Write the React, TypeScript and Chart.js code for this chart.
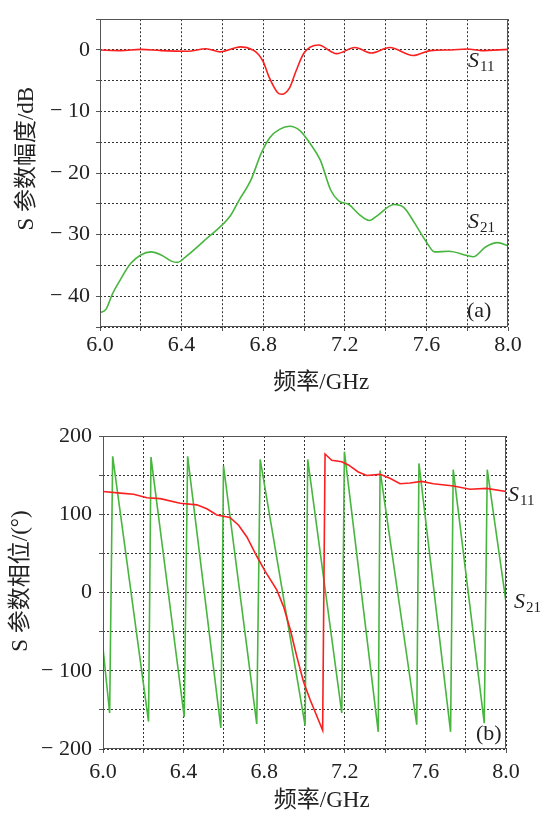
import React, { useEffect, useRef } from 'react';
import { Chart, registerables } from 'chart.js';

Chart.register(...registerables);

// ---------- data: (a) magnitude ----------
const s11MagFreq = [6.0, 6.1, 6.2, 6.3, 6.43, 6.52, 6.59, 6.69, 6.75, 6.776, 6.8, 6.83, 6.87, 6.89, 6.93, 6.96, 7.0, 7.07, 7.16, 7.25, 7.33, 7.42, 7.535, 7.62, 7.72, 7.8, 7.87, 8.0];
const s11MagDb = [0, -0.1, 0.1, -0.1, -0.2, 0.2, -0.3, 0.5, 0, -0.7, -1.9, -4.5, -6.9, -7.2, -6.1, -3.5, -0.5, 0.8, -0.6, 0.4, -0.5, 0.4, -0.9, -0.1, 0, 0.15, -0.1, 0.1];

const s21MagFreq = [6.0, 6.03, 6.06, 6.1, 6.15, 6.2, 6.25, 6.3, 6.35, 6.38, 6.42, 6.52, 6.64, 6.68, 6.74, 6.79, 6.833, 6.88, 6.93, 6.98, 7.03, 7.08, 7.13, 7.17, 7.22, 7.27, 7.32, 7.36, 7.44, 7.49, 7.54, 7.6, 7.64, 7.71, 7.8, 7.83, 7.89, 7.95, 8.0];
const s21MagDb = [-42.7, -42.1, -39.7, -37.3, -34.7, -33.3, -32.8, -33.3, -34.3, -34.5, -33.6, -30.7, -26.9, -24.5, -21.1, -16.8, -14.2, -12.9, -12.4, -13.1, -15.2, -17.9, -22.7, -24.5, -25.1, -26.7, -27.7, -26.9, -25.1, -25.6, -28.0, -31.2, -32.8, -32.7, -33.4, -33.6, -32.0, -31.3, -31.8];

// ---------- data: (b) phase ----------
const s11PhaseFreq = [6.0, 6.086, 6.152, 6.218, 6.284, 6.383, 6.466, 6.515, 6.565, 6.63, 6.673, 6.714, 6.764, 6.805, 6.863, 6.896, 6.93, 6.962, 6.995, 7.028, 7.09, 7.102, 7.135, 7.185, 7.218, 7.267, 7.309, 7.375, 7.424, 7.474, 7.524, 7.581, 7.64, 7.74, 7.821, 7.904, 8.0];
const s11PhaseDeg = [129, 127, 125.5, 121, 120, 114, 112, 107, 99, 96, 86, 71, 46, 27, 3, -18, -48, -82, -114, -137, -176, 177, 169, 167, 163, 154, 149.6, 151, 146, 139, 140, 142, 139, 136, 132, 133, 129];

const s21PhaseFreq = [6.0, 6.033, 6.048, 6.226, 6.238, 6.403, 6.42, 6.585, 6.598, 6.763, 6.78, 7.003, 7.016, 7.185, 7.198, 7.366, 7.375, 7.557, 7.568, 7.725, 7.738, 7.892, 7.907, 8.0];
const s21PhaseDeg = [-71, -154, 174, -165, 173, -159, 174, -173, 162, -168, 170, -170, 170, -154, 180, -178, 156, -169, 165, -178, 157, -167, 157, -12];

// ---------- tick labels ----------
const freqTickLabels = ['6.0', '6.4', '6.8', '7.2', '7.6', '8.0'];
const magTickLabels = ['− 40', '− 30', '− 20', '− 10', '0'];
const phaseTickLabels = ['− 200', '− 100', '0', '100', '200'];

const RED = 'rgb(250,32,32)';
const GREEN = 'rgb(72,182,62)';
const SERIF = "'Liberation Serif', 'Noto Sans CJK SC', serif";
const TEXT = '#222';

function labelFor(list: string[], value: number): string {
  const hit = list.find((l) => Math.abs(parseFloat(l.replace('−', '-').replace(/\s/g, '')) - value) < 1e-6);
  return hit ?? '';
}

const annotatePlugin = {
  id: 'annotate',
  afterDraw(chart: any, _args: any, opts: any) {
    const { ctx, chartArea: a } = chart;
    ctx.save();
    ctx.strokeStyle = '#555';
    ctx.lineWidth = 1;
    ctx.setLineDash([]);
    ctx.strokeRect(Math.round(a.left) + 0.5, Math.round(a.top) + 0.5, Math.round(a.right - a.left) - 1, Math.round(a.bottom - a.top) - 1);
    ctx.fillStyle = TEXT;
    ctx.textAlign = 'left';
    ctx.textBaseline = 'alphabetic';
    for (const it of opts.items || []) {
      ctx.font = `${it.italic ? 'italic ' : ''}22px ${SERIF}`;
      ctx.fillText(it.main, it.x, it.y);
      if (it.sub) {
        const w = ctx.measureText(it.main).width;
        ctx.font = `15px ${SERIF}`;
        ctx.fillText(it.sub, it.x + w + 1, it.y + 4);
      }
    }
    ctx.restore();
  },
};

type PanelSpec = {
  s11x: number[]; s11y: number[]; s21x: number[]; s21y: number[];
  yMin: number; yMax: number; yStep: number; yLabels: string[];
  plotLeft: number; plotRight: number; plotTop: number; plotBottom: number;
  xTitle: string; yTitle: string; xTitlePad: number; yTitlePad: number;
  xTickPad: number; yTickPad: number; monotone: boolean; items: any[];
};

function makeConfig(p: PanelSpec): any {
  const H = 408;
  const W = 544;
  const lineDs = (label: string, xs: number[], ys: number[], color: string) => ({
    label,
    data: xs.map((x, i) => ({ x, y: ys[i] })),
    borderColor: color,
    backgroundColor: color,
    borderWidth: 1.6,
    pointRadius: 0,
    fill: false,
    tension: 0,
    cubicInterpolationMode: p.monotone ? 'monotone' : 'default',
  });
  return {
    type: 'line',
    data: {
      datasets: [
        lineDs('S11', p.s11x, p.s11y, RED),
        lineDs('S21', p.s21x, p.s21y, GREEN),
      ],
    },
    options: {
      responsive: false,
      animation: false,
      devicePixelRatio: 1,
      layout: { padding: { left: 0, right: W - p.plotRight, top: p.plotTop, bottom: 0 } },
      plugins: {
        legend: { display: false },
        tooltip: { enabled: false },
        annotate: { items: p.items },
      },
      scales: {
        x: {
          type: 'linear',
          min: 6,
          max: 8,
          afterFit: (s: any) => { s.height = H - p.plotBottom; },
          ticks: {
            stepSize: 0.2,
            autoSkip: false,
            maxRotation: 0,
            minRotation: 0,
            padding: p.xTickPad,
            color: TEXT,
            font: { family: SERIF, size: 22 },
            callback: (v: number) => labelFor(freqTickLabels, v),
          },
          grid: { color: '#333', lineWidth: 1, drawTicks: true, tickLength: 4, tickColor: '#555', tickBorderDash: [] },
          border: { display: false, dash: [2, 2] },
          title: {
            display: true,
            text: p.xTitle,
            color: TEXT,
            font: { family: SERIF, size: 23 },
            padding: { top: 0, bottom: p.xTitlePad },
          },
        },
        y: {
          type: 'linear',
          min: p.yMin,
          max: p.yMax,
          afterFit: (s: any) => { s.width = p.plotLeft; },
          ticks: {
            stepSize: p.yStep,
            autoSkip: false,
            padding: p.yTickPad,
            color: TEXT,
            font: { family: SERIF, size: 22 },
            callback: (v: number) => labelFor(p.yLabels, v),
          },
          grid: { color: '#333', lineWidth: 1, drawTicks: true, tickLength: 4, tickColor: '#555', tickBorderDash: [] },
          border: { display: false, dash: [2, 2] },
          title: {
            display: true,
            text: p.yTitle,
            color: TEXT,
            font: { family: SERIF, size: 23 },
            padding: { top: p.yTitlePad, bottom: 0 },
          },
        },
      },
    },
    plugins: [annotatePlugin],
  };
}

const magSpec: PanelSpec = {
  s11x: s11MagFreq, s11y: s11MagDb, s21x: s21MagFreq, s21y: s21MagDb,
  yMin: -45, yMax: 5, yStep: 5, yLabels: magTickLabels,
  plotLeft: 100, plotRight: 508, plotTop: 14, plotBottom: 327,
  xTitle: '      频率/GHz', yTitle: '     S 参数幅度/dB', xTitlePad: 11, yTitlePad: 13,
  xTickPad: 1, yTickPad: 6, monotone: true,
  items: [
    { main: 'S', sub: '11', x: 468, y: 67, italic: true },
    { main: 'S', sub: '21', x: 468, y: 228, italic: true },
    { main: '(a)', x: 467, y: 317 },
  ],
};

const phaseSpec: PanelSpec = {
  s11x: s11PhaseFreq, s11y: s11PhaseDeg, s21x: s21PhaseFreq, s21y: s21PhaseDeg,
  yMin: -200, yMax: 200, yStep: 50, yLabels: phaseTickLabels,
  plotLeft: 103, plotRight: 506, plotTop: 28, plotBottom: 341,
  xTitle: '      频率/GHz', yTitle: '    S 参数相位/(°)', xTitlePad: 1, yTitlePad: 7,
  xTickPad: 6, yTickPad: 7, monotone: false,
  items: [
    { main: 'S', sub: '11', x: 508, y: 93, italic: true },
    { main: 'S', sub: '21', x: 514, y: 200, italic: true },
    { main: '(b)', x: 476, y: 332 },
  ],
};

function ChartPanel({ spec, top }: { spec: PanelSpec; top: number }) {
  const ref = useRef<HTMLCanvasElement>(null);
  useEffect(() => {
    if (!ref.current) return;
    const chart = new Chart(ref.current, makeConfig(spec));
    return () => chart.destroy();
  }, [spec]);
  return (
    <canvas
      ref={ref}
      width={544}
      height={408}
      style={{ position: 'absolute', left: 0, top, width: 544, height: 408 }}
    />
  );
}

export default function App() {
  return (
    <div style={{ position: 'absolute', left: 0, top: 0, width: 544, height: 816, background: '#fff' }}>
      <ChartPanel spec={magSpec} top={0} />
      <ChartPanel spec={phaseSpec} top={408} />
    </div>
  );
}
